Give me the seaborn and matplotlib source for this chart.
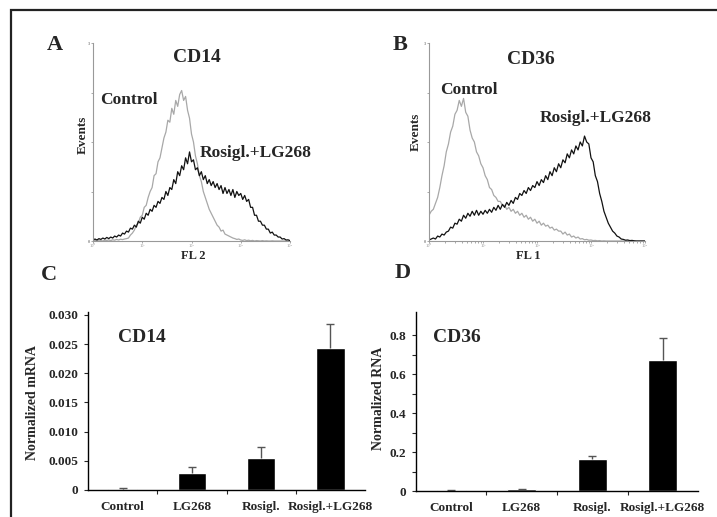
import numpy as np
import pandas as pd
import matplotlib
matplotlib.use("Agg")
import matplotlib.pyplot as plt
import matplotlib.ticker as mticker
from matplotlib.patches import Rectangle
import seaborn as sns

# flow histograms, channel axis in log10 units (0 .. 4), events in % of axis height
log_channel = np.linspace(0, 4, 101)

cd14_control = [0, 0.3, 0, 0.5, 0.2, 0, 0.4, 0.3, 0.5, 0.2, 0.6, 0.4, 0.8, 0.5, 0.9, 0.7, 1.0, 1.2,
                1.5, 3, 4, 5.5, 8, 9, 12, 13, 17, 18, 22, 25, 27, 33, 34, 40, 42, 47, 52, 55, 61, 60,
                67, 64, 71, 68, 74, 76, 71, 73, 66, 62, 54, 50, 43, 39, 33, 30, 25, 22, 19, 16, 14,
                12, 10, 8, 7, 5, 5.5, 3.5, 3, 2.5, 2, 1.5, 1.2, 0.8, 1,
                0.5, 0.3, 0.6, 0.2, 0.4, 0.1, 0.3, 0, 0.2, 0.1, 0, 0.2, 0, 0.1, 0, 0, 0.1, 0, 0, 0,
                0, 0, 0, 0, 0, 0]
cd14_treated = [0.5, 1, 0.5, 1.2, 0.8, 1.5, 1, 1.8, 1.2, 2, 1.5, 2.5, 2, 3, 2.5, 4, 3.5, 5, 4.5,
                6.5, 6, 8, 7, 10, 9, 12, 11, 14, 13, 16, 15, 18, 17, 20, 19, 22, 21, 25, 23, 27, 26,
                31, 29, 35, 33, 38, 36, 42, 39, 45, 40, 41, 36, 37, 33, 35, 31, 33, 29, 31, 28, 30,
                27, 29, 26, 28, 24, 27, 24, 26, 23, 26, 22, 25, 23, 24, 21, 23, 20, 21, 17, 17, 13,
                13, 10, 10, 8, 8, 6, 6, 4, 4.5, 3, 3, 2, 2, 1, 1.2, 0.5, 0.6, 0.2]
cd36_control = [13, 15, 16, 19, 22, 27, 33, 38, 45, 49, 55, 58, 64, 66, 71, 68, 72, 65, 63, 56,
                52, 50, 45, 43, 39, 37, 33, 31, 27, 26, 23, 22, 20, 20, 18, 18, 16, 17, 15, 16, 14,
                15, 13, 14, 12, 13, 11, 12, 10, 11, 9, 10, 8, 9, 7.5, 8, 6.5, 7, 5.5, 6, 5, 5, 3.5,
                4.5, 3, 3.5, 2, 2.5, 1.5, 2, 1, 1.2, 0.6, 0.8, 0.4,
                0.5, 0.2, 0.3, 0.1, 0.2, 0, 0.1, 0, 0, 0, 0, 0, 0, 0, 0, 0, 0, 0, 0, 0, 0, 0, 0, 0,
                0, 0]
cd36_treated = [0.5, 1, 1.5, 1, 2.5, 2, 3.5, 3, 4.5, 5, 7, 6.5, 9, 8.5, 11, 10, 13, 11.5, 14,
                12.5, 15, 13, 15.5, 13, 15, 13.5, 15.5, 14, 16, 14.5, 17, 15.5, 18, 16, 18.5, 17,
                19.5, 18, 20.5, 19, 22, 21, 24, 23, 25.5, 24, 27, 25.5, 28, 27, 30, 28, 31, 29.5,
                33, 31, 35, 33, 37, 35, 39, 37, 41, 39.5, 44, 42, 46, 44, 48, 46, 50, 48, 53, 50,
                49, 42, 40, 33, 30, 24, 20, 15, 12, 9, 7, 5, 4, 2.5, 2, 1, 0.8, 0.4, 0.5, 0.2, 0.3,
                0.1, 0, 0, 0, 0, 0]
decade_labels = ["10⁰", "10¹", "10²", "10³", "10⁴"]

# qPCR bars
treatments = ["Control", "LG268", "Rosigl.", "Rosigl.+LG268"]
cd14_mrna = [0.0002, 0.0029, 0.0054, 0.0244]
cd14_err = [0.0001, 0.0010, 0.0019, 0.0040]
cd36_rna = [0.004, 0.009, 0.163, 0.672]
cd36_err = [0.001, 0.002, 0.017, 0.111]

W, H = 717, 517

sns.set_style("ticks")
plt.rcParams["font.family"] = ["Liberation Serif", "DejaVu Serif"]
plt.rcParams["font.weight"] = "bold"

fig = plt.figure(figsize=(W / 100, H / 100), dpi=100)


def px_axes(left, top, right, bottom):
    return fig.add_axes([left / W, 1 - bottom / H, (right - left) / W, (bottom - top) / H])


def ftext(x, y, s, **kw):
    fig.text(x / W, 1 - y / H, s, fontweight="bold", **kw)


def flow_panel(ax, control, treated):
    df = pd.DataFrame({"ch": 10 ** log_channel, "control": control, "treated": treated})
    sns.lineplot(data=df, x="ch", y="control", color="#a8a8a8", lw=0.9, ax=ax, estimator=None)
    sns.lineplot(data=df, x="ch", y="treated", color="#111111", lw=0.9, ax=ax, estimator=None)
    ax.set_xscale("log")
    ax.set_xlim(1, 1e4)
    ax.set_ylim(0, 100)
    ax.set_xlabel("")
    ax.set_ylabel("")
    ax.set_xticks([1, 10, 100, 1000, 10000])
    ax.set_xticklabels(decade_labels, fontsize=3.2, color="#666666", fontweight="normal")
    ax.xaxis.set_minor_locator(mticker.LogLocator(subs=np.arange(2, 10)))
    ax.xaxis.set_minor_formatter(mticker.NullFormatter())
    ax.set_yticks([0, 25, 50, 75, 100])
    ax.set_yticklabels(["0", "", "", "", "3"], fontsize=3.2, color="#666666")
    ax.tick_params(which="both", length=1.5, width=0.5, colors="#888888", pad=0.3)
    for s in ["top", "right"]:
        ax.spines[s].set_visible(False)
    for s in ["left", "bottom"]:
        ax.spines[s].set_color("#999999")
        ax.spines[s].set_linewidth(0.8)
    ax.patch.set_alpha(0)


def bar_panel(ax, values, errs, ymax, ticks, labels, ylabel, label_pos):
    df = pd.DataFrame({"treatment": treatments, "value": values})
    sns.barplot(data=df, x="treatment", y="value", color="black", width=0.41, ax=ax,
                errorbar=None, saturation=1)
    _, caps, _ = ax.errorbar(range(len(values)), values, yerr=[[0] * len(errs), errs],
                             fmt="none", ecolor="#555555", elinewidth=1, capsize=3, capthick=1)
    caps[0].set_visible(False)
    ax.set_xlim(-0.5, 3.5)
    ax.set_ylim(0, ymax)
    ax.set_yticks(ticks)
    ax.set_yticklabels(labels, fontsize=9.5, fontweight="bold")
    ax.set_xticks(range(4))
    ax.set_xticklabels(treatments, fontsize=9.5, fontweight="bold")
    ax.xaxis.set_minor_locator(mticker.FixedLocator([0.5, 1.5, 2.5]))
    ax.tick_params(axis="x", which="major", length=0, pad=8)
    ax.tick_params(axis="x", which="minor", length=3, width=0.8)
    ax.tick_params(axis="y", which="both", length=3, width=0.8, pad=4)
    ax.set_xlabel("")
    ax.set_ylabel(ylabel, fontsize=10, fontweight="bold")
    ax.yaxis.set_label_coords(label_pos[0], label_pos[1])
    for s in ["top", "right"]:
        ax.spines[s].set_visible(False)
    for s in ["left", "bottom"]:
        ax.spines[s].set_color("black")
        ax.spines[s].set_linewidth(1.0)
    ax.patch.set_alpha(0)


ax_a = px_axes(93, 43, 290, 241)
flow_panel(ax_a, cd14_control, cd14_treated)
ax_b = px_axes(429, 43, 645, 241)
flow_panel(ax_b, cd36_control, cd36_treated)

ax_c = px_axes(88, 312, 365, 490)
bar_panel(ax_c, cd14_mrna, cd14_err, 0.0305,
          [0, 0.005, 0.010, 0.015, 0.020, 0.025, 0.030],
          ["0", "0.005", "0.010", "0.015", "0.020", "0.025", "0.030"],
          "Normalized mRNA", (-0.177, 0.494))
ax_d = px_axes(416, 312, 698, 491)
bar_panel(ax_d, cd36_rna, cd36_err, 0.918,
          [0, 0.2, 0.4, 0.6, 0.8], ["0", "0.2", "0.4", "0.6", "0.8"],
          "Normalized RNA", (-0.11, 0.52))
ax_d.yaxis.set_minor_locator(mticker.FixedLocator([0.1, 0.3, 0.5, 0.7]))

# panel letters and labels
ftext(55, 45, "A", fontsize=16, ha="center", va="center")
ftext(400, 45, "B", fontsize=16, ha="center", va="center")
ftext(49, 275, "C", fontsize=16, ha="center", va="center")
ftext(403, 273, "D", fontsize=16, ha="center", va="center")

ftext(197, 57, "CD14", fontsize=14, ha="center", va="center")
ftext(531, 60, "CD36", fontsize=14, ha="center", va="center")
ftext(100, 100, "Control", fontsize=12.5, ha="left", va="center")
ftext(200, 153, "Rosigl.+LG268", fontsize=12.5, ha="left", va="center")
ftext(440, 90, "Control", fontsize=12.5, ha="left", va="center")
ftext(540, 118, "Rosigl.+LG268", fontsize=12.5, ha="left", va="center")
ftext(83, 135, "Events", fontsize=9.5, ha="center", va="center", rotation=90)
ftext(416, 132, "Events", fontsize=9.5, ha="center", va="center", rotation=90)
ftext(193, 256, "FL 2", fontsize=9, ha="center", va="center")
ftext(528, 256, "FL 1", fontsize=9, ha="center", va="center")
ftext(118, 337, "CD14", fontsize=14, ha="left", va="center")
ftext(433, 337, "CD36", fontsize=14, ha="left", va="center")

# outer frame (runs off the right and bottom edges)
fig.patches.append(Rectangle((11 / W, -0.05), 1.1, 1 - 10 / H + 0.05, transform=fig.transFigure,
                             fill=False, edgecolor="#222222", lw=1.6, clip_on=False))

fig.savefig("out.png", dpi=100)
